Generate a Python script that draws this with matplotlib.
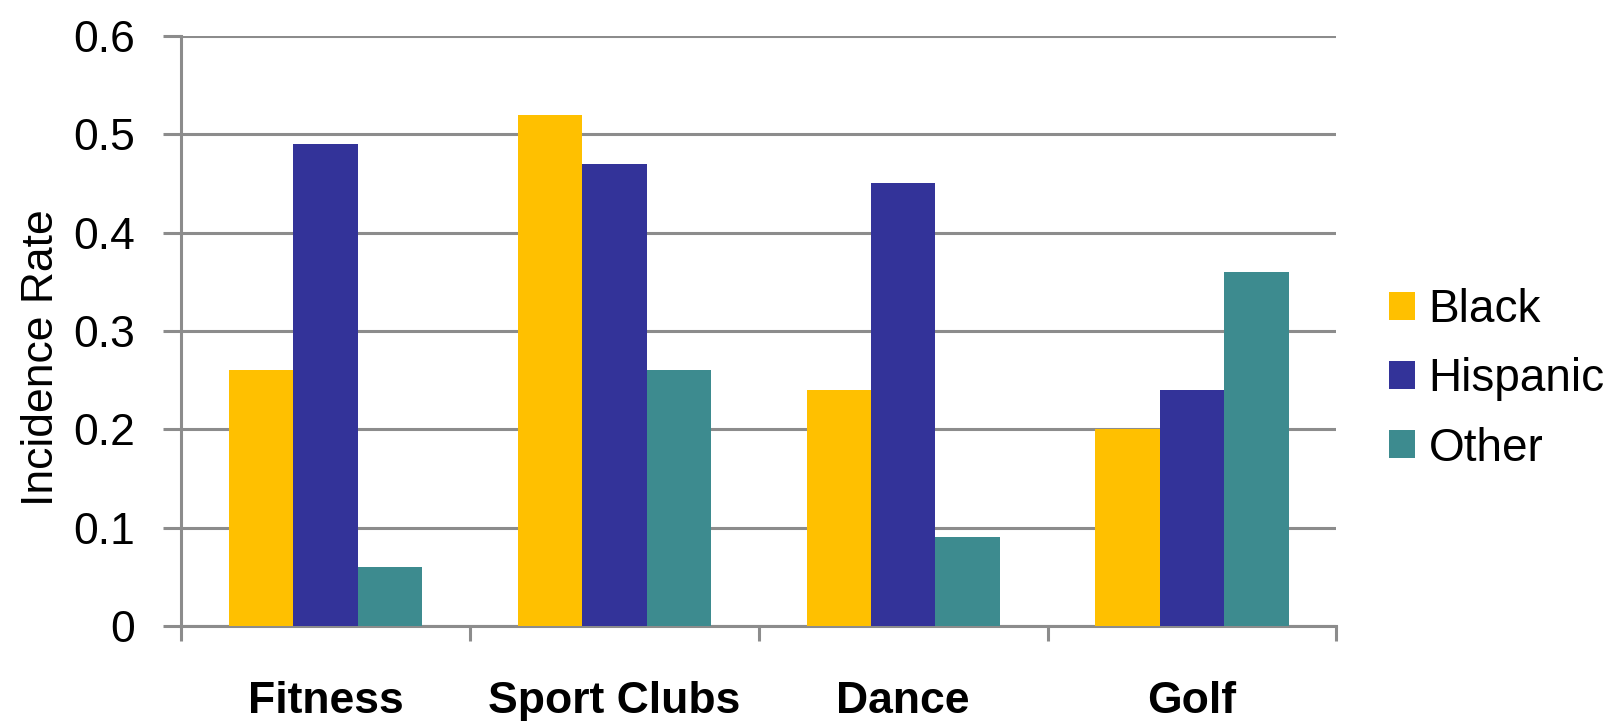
import numpy as np
import matplotlib.pyplot as plt

plt.rcParams['font.family'] = ['Liberation Sans', 'DejaVu Sans']

categories = ['Fitness', 'Sport Clubs', 'Dance', 'Golf']
groups = ['Black', 'Hispanic', 'Other']
black = [0.26, 0.52, 0.24, 0.20]
hispanic = [0.49, 0.47, 0.45, 0.24]
other = [0.06, 0.26, 0.09, 0.36]
colors = ['#FFC000', '#333399', '#3D8B8F']
yticks = [0, 0.1, 0.2, 0.3, 0.4, 0.5, 0.6]
ytick_labels = ['0', '0.1', '0.2', '0.3', '0.4', '0.5', '0.6']

grid_col = '#8C8C8C'

fig = plt.figure(figsize=(16.18, 7.21), dpi=100)
ax = fig.add_axes([0.112, 0.132, 0.714, 0.818])

x = np.arange(len(categories)) + 0.5
w = 0.223
for i, (vals, name) in enumerate(zip([black, hispanic, other], groups)):
    ax.bar(x + (i - 1) * w, vals, width=w, color=colors[i], label=name, zorder=3)

ax.set_xlim(0, 4)
ax.set_ylim(0, 0.6)
ax.set_yticks(yticks)
ax.set_yticklabels(ytick_labels, fontsize=32)
ax.yaxis.grid(True, color=grid_col, linewidth=2.2, zorder=0)
ax.tick_params(axis='y', length=13, width=2.2, color=grid_col, pad=20)

# boundaries as major ticks, category names on minor ticks
ax.set_xticks(np.arange(0, 5))
ax.set_xticklabels([])
ax.set_xticks(x, minor=True)
ax.set_xticklabels(categories, minor=True, fontsize=32, fontweight='bold')
ax.tick_params(axis='x', which='major', length=11, width=2.2, color=grid_col)
ax.tick_params(axis='x', which='minor', length=0, pad=40)

for s in ['top', 'right']:
    ax.spines[s].set_visible(False)
for s in ['left', 'bottom']:
    ax.spines[s].set_color(grid_col)
    ax.spines[s].set_linewidth(2.2)

ax.set_ylabel('Incidence Rate', fontsize=32)
ax.yaxis.set_label_coords(-0.103, 0.455)

ax.legend(loc='center left', bbox_to_anchor=(1.03, 0.418), frameon=False,
          fontsize=33, handlelength=0.55, handleheight=0.55, handletextpad=0.3,
          labelspacing=0.55, borderaxespad=0)

fig.savefig('out.png', dpi=100)
